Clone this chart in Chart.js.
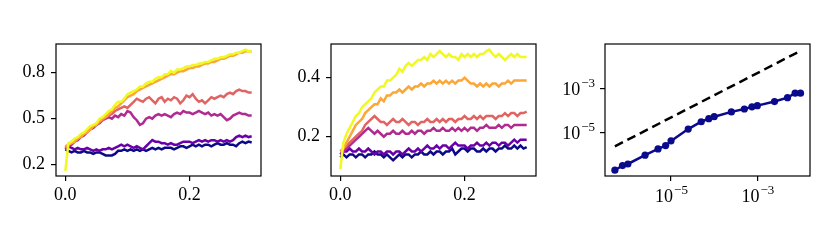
<!DOCTYPE html>
<html>
<head>
<meta charset="utf-8">
<script src="https://cdn.jsdelivr.net/npm/chart.js@4/dist/chart.umd.min.js"></script>
<style>
  body { margin: 0; background: #fff; }
  canvas { position: absolute; top: 0; }
</style>
</head>
<body>
<canvas id="c1" width="275" height="249" style="left:0px"></canvas>
<canvas id="c2" width="275" height="249" style="left:275px"></canvas>
<canvas id="c3" width="280" height="249" style="left:550px"></canvas>
<script>
// shared time axis for the two left panels
const steps = [0, 0.005, 0.01, 0.015, 0.02, 0.025, 0.03, 0.035, 0.04, 0.045,
  0.05, 0.055, 0.06, 0.065, 0.07, 0.075, 0.08, 0.085, 0.09, 0.095,
  0.1, 0.105, 0.11, 0.115, 0.12, 0.125, 0.13, 0.135, 0.14, 0.145,
  0.15, 0.155, 0.16, 0.165, 0.17, 0.175, 0.18, 0.185, 0.19, 0.195,
  0.2, 0.205, 0.21, 0.215, 0.22, 0.225, 0.23, 0.235, 0.24, 0.245,
  0.25, 0.255, 0.26, 0.265, 0.27, 0.275, 0.28, 0.285, 0.29, 0.295, 0.3];

const plasma = ['#0d0887', '#6a00a8', '#b12a90', '#e16462', '#fca636', '#f0f921'];

// panel 1
const navy1 = [0.30, 0.29, 0.28, 0.29, 0.28, 0.28, 0.29, 0.28, 0.28, 0.27, 0.28, 0.28, 0.27, 0.26, 0.26, 0.26, 0.27, 0.29, 0.29, 0.30,
  0.29, 0.30, 0.29, 0.30, 0.29, 0.30, 0.29, 0.30, 0.31, 0.30, 0.31, 0.30, 0.31, 0.31, 0.31, 0.30, 0.31, 0.32, 0.32, 0.31,
  0.32, 0.33, 0.32, 0.33, 0.32, 0.33, 0.33, 0.32, 0.33, 0.34, 0.33, 0.33, 0.34, 0.33, 0.33, 0.32, 0.34, 0.35, 0.34, 0.35, 0.345];
const purple1 = [0.31, 0.32, 0.31, 0.30, 0.31, 0.30, 0.30, 0.31, 0.30, 0.29, 0.30, 0.29, 0.30, 0.30, 0.31, 0.30, 0.31, 0.32, 0.33, 0.32,
  0.33, 0.32, 0.31, 0.32, 0.31, 0.30, 0.32, 0.34, 0.36, 0.35, 0.35, 0.34, 0.34, 0.33, 0.34, 0.33, 0.33, 0.34, 0.35, 0.35,
  0.35, 0.34, 0.35, 0.36, 0.35, 0.36, 0.35, 0.36, 0.36, 0.35, 0.36, 0.35, 0.36, 0.35, 0.36, 0.38, 0.39, 0.38, 0.39, 0.38, 0.385];
const magenta1 = [0.30, 0.32, 0.33, 0.35, 0.36, 0.38, 0.39, 0.41, 0.43, 0.44, 0.46, 0.47, 0.49, 0.50, 0.51, 0.50, 0.52, 0.51, 0.53, 0.52,
  0.55, 0.54, 0.51, 0.49, 0.46, 0.47, 0.50, 0.51, 0.50, 0.52, 0.53, 0.52, 0.53, 0.52, 0.51, 0.53, 0.54, 0.53, 0.55, 0.54,
  0.54, 0.53, 0.54, 0.55, 0.54, 0.53, 0.54, 0.52, 0.53, 0.52, 0.53, 0.51, 0.49, 0.50, 0.52, 0.53, 0.54, 0.53, 0.53, 0.52, 0.52];
const salmon1 = [0.31, 0.33, 0.34, 0.36, 0.37, 0.39, 0.40, 0.42, 0.43, 0.45, 0.46, 0.48, 0.49, 0.51, 0.52, 0.53, 0.55, 0.56, 0.57, 0.58,
  0.57, 0.59, 0.61, 0.63, 0.62, 0.61, 0.63, 0.64, 0.62, 0.60, 0.63, 0.64, 0.61, 0.63, 0.62, 0.64, 0.63, 0.60, 0.62, 0.65,
  0.64, 0.66, 0.63, 0.61, 0.62, 0.60, 0.62, 0.64, 0.63, 0.64, 0.65, 0.64, 0.66, 0.67, 0.66, 0.68, 0.69, 0.68, 0.68, 0.67, 0.67];
const orange1 = [0.32, 0.33, 0.34, 0.35, 0.37, 0.38, 0.40, 0.41, 0.43, 0.45, 0.46, 0.48, 0.50, 0.51, 0.53, 0.55, 0.57, 0.58, 0.60, 0.62,
  0.64, 0.65, 0.66, 0.68, 0.69, 0.70, 0.71, 0.72, 0.73, 0.74, 0.75, 0.76, 0.77, 0.78, 0.79, 0.79, 0.80, 0.81, 0.81, 0.82,
  0.83, 0.83, 0.84, 0.84, 0.85, 0.86, 0.86, 0.87, 0.87, 0.88, 0.89, 0.89, 0.90, 0.91, 0.91, 0.92, 0.93, 0.93, 0.94, 0.94, 0.94];
const yellow1 = [0.16, 0.34, 0.35, 0.37, 0.38, 0.40, 0.41, 0.43, 0.45, 0.46, 0.47, 0.50, 0.51, 0.53, 0.55, 0.56, 0.59, 0.61, 0.61, 0.63,
  0.66, 0.67, 0.68, 0.69, 0.71, 0.71, 0.73, 0.74, 0.74, 0.76, 0.77, 0.77, 0.79, 0.79, 0.81, 0.80, 0.82, 0.82, 0.83, 0.84,
  0.84, 0.85, 0.85, 0.86, 0.86, 0.87, 0.87, 0.88, 0.89, 0.89, 0.90, 0.90, 0.91, 0.92, 0.92, 0.93, 0.93, 0.94, 0.95, 0.94, 0.94];

// panel 2
const navy2 = [0.13, 0.14, 0.13, 0.14, 0.14, 0.13, 0.14, 0.14, 0.13, 0.14, 0.14, 0.15, 0.14, 0.14, 0.13, 0.14, 0.13, 0.12, 0.13, 0.14,
  0.13, 0.14, 0.14, 0.13, 0.14, 0.14, 0.15, 0.14, 0.14, 0.15, 0.14, 0.15, 0.15, 0.14, 0.15, 0.15, 0.16, 0.14, 0.15, 0.16,
  0.16, 0.15, 0.16, 0.16, 0.15, 0.15, 0.16, 0.15, 0.16, 0.16, 0.15, 0.16, 0.16, 0.17, 0.16, 0.16, 0.17, 0.16, 0.17, 0.16, 0.165];
const purple2 = [0.14, 0.15, 0.15, 0.16, 0.15, 0.15, 0.16, 0.15, 0.15, 0.16, 0.15, 0.14, 0.15, 0.15, 0.14, 0.15, 0.15, 0.14, 0.15, 0.15,
  0.14, 0.15, 0.16, 0.15, 0.15, 0.16, 0.15, 0.16, 0.17, 0.16, 0.16, 0.17, 0.16, 0.17, 0.17, 0.16, 0.17, 0.18, 0.17, 0.17,
  0.17, 0.16, 0.17, 0.17, 0.18, 0.17, 0.17, 0.18, 0.17, 0.18, 0.18, 0.17, 0.18, 0.18, 0.17, 0.18, 0.19, 0.18, 0.19, 0.19, 0.19];
const magenta2 = [0.14, 0.15, 0.16, 0.17, 0.18, 0.19, 0.20, 0.21, 0.22, 0.23, 0.22, 0.21, 0.22, 0.21, 0.20, 0.21, 0.21, 0.22, 0.21, 0.21,
  0.22, 0.21, 0.21, 0.22, 0.21, 0.22, 0.22, 0.21, 0.22, 0.22, 0.23, 0.22, 0.22, 0.23, 0.22, 0.22, 0.23, 0.22, 0.23, 0.22,
  0.23, 0.22, 0.23, 0.23, 0.22, 0.23, 0.23, 0.24, 0.23, 0.23, 0.23, 0.24, 0.23, 0.24, 0.24, 0.23, 0.24, 0.24, 0.24, 0.24, 0.24];
const salmon2 = [0.15, 0.16, 0.17, 0.18, 0.19, 0.20, 0.21, 0.22, 0.24, 0.25, 0.26, 0.27, 0.26, 0.25, 0.25, 0.24, 0.25, 0.26, 0.25, 0.25,
  0.26, 0.25, 0.24, 0.25, 0.25, 0.24, 0.25, 0.25, 0.26, 0.25, 0.25, 0.26, 0.25, 0.26, 0.25, 0.26, 0.26, 0.25, 0.26, 0.26,
  0.27, 0.26, 0.26, 0.27, 0.26, 0.27, 0.26, 0.27, 0.27, 0.27, 0.26, 0.27, 0.27, 0.28, 0.27, 0.28, 0.28, 0.27, 0.28, 0.28, 0.285];
const orange2 = [0.15, 0.16, 0.18, 0.20, 0.22, 0.24, 0.25, 0.26, 0.28, 0.29, 0.30, 0.31, 0.31, 0.33, 0.32, 0.34, 0.34, 0.35, 0.35, 0.36,
  0.35, 0.36, 0.37, 0.36, 0.37, 0.37, 0.38, 0.37, 0.38, 0.38, 0.39, 0.38, 0.39, 0.38, 0.39, 0.38, 0.39, 0.38, 0.39, 0.39,
  0.40, 0.39, 0.38, 0.38, 0.37, 0.38, 0.37, 0.38, 0.37, 0.38, 0.38, 0.37, 0.38, 0.38, 0.39, 0.38, 0.39, 0.39, 0.39, 0.39, 0.39];
const yellow2 = [0.09, 0.18, 0.21, 0.23, 0.25, 0.27, 0.28, 0.30, 0.31, 0.32, 0.33, 0.35, 0.36, 0.37, 0.37, 0.39, 0.39, 0.40, 0.41, 0.43,
  0.42, 0.44, 0.45, 0.44, 0.45, 0.46, 0.46, 0.47, 0.46, 0.48, 0.47, 0.48, 0.49, 0.48, 0.47, 0.48, 0.47, 0.47, 0.46, 0.48,
  0.47, 0.48, 0.47, 0.48, 0.47, 0.48, 0.48, 0.49, 0.495, 0.48, 0.47, 0.48, 0.47, 0.46, 0.47, 0.48, 0.47, 0.48, 0.47, 0.47, 0.47];

// panel 3 (log-log)
const h = [5e-7, 7.5e-7, 1e-6, 2.5e-6, 5e-6, 7.5e-6, 1e-5, 2.5e-5, 5e-5, 7.5e-5,
  1e-4, 2.5e-4, 5e-4, 7.5e-4, 1e-3, 2.5e-3, 5e-3, 7.5e-3, 1e-2];
const err = [2.1e-7, 3.4e-7, 4.0e-7, 1.0e-6, 1.9e-6, 2.7e-6, 4.4e-6, 1.5e-5, 3.2e-5, 4.4e-5,
  5.4e-5, 8.9e-5, 1.2e-4, 1.5e-4, 1.7e-4, 2.6e-4, 3.9e-4, 6.2e-4, 6.2e-4];
const refX = [5e-7, 1e-2];
const refY = [2.5e-6, 5e-2];

const FONT = "'Liberation Serif', 'DejaVu Serif', serif";

const frame = {
  id: 'frame',
  afterDraw(chart) {
    const a = chart.chartArea, ctx = chart.ctx;
    ctx.save();
    ctx.strokeStyle = '#000';
    ctx.lineWidth = 1.2;
    ctx.strokeRect(a.left, a.top, a.right - a.left, a.bottom - a.top);
    ctx.restore();
  }
};

function axisBase(min, max, ticks, size) {
  const horiz = size > 60;
  return {
    type: 'linear',
    min: min,
    max: max,
    afterBuildTicks: s => { s.ticks = ticks.map(v => ({ value: v })); },
    afterFit: s => { if (s.isHorizontal()) s.height = size; else s.width = size; },
    grid: { display: true, drawOnChartArea: false, drawTicks: true, tickLength: 5, color: '#000', lineWidth: 1.2 },
    border: { display: false },
    ticks: {
      autoSkip: false,
      maxRotation: 0,
      color: '#000',
      padding: horiz ? 3 : 6,
      font: { family: FONT, size: 18 },
      callback: v => v.toFixed(1)
    }
  };
}

function lineChart(id, series, yMin, yMax, yTicks, rightPad) {
  const datasets = series.map((s, i) => ({
    data: steps.map((x, j) => ({ x: x, y: s[j] })),
    borderColor: plasma[i],
    borderWidth: 2.5,
    pointRadius: 0,
    fill: false,
    tension: 0,
    order: series.length - i
  }));
  return new Chart(document.getElementById(id), {
    type: 'line',
    data: { datasets: datasets },
    options: {
      responsive: false,
      animation: false,
      layout: { padding: { top: 44, right: rightPad, left: 0, bottom: 0 } },
      plugins: { legend: { display: false }, tooltip: { enabled: false } },
      scales: {
        x: axisBase(-0.015, 0.315, [0, 0.2], 73),
        y: axisBase(yMin, yMax, yTicks, 56)
      }
    },
    plugins: [frame]
  });
}

lineChart('c1', [navy1, purple1, magenta1, salmon1, orange1, yellow1], 0.126, 0.987, [0.2, 0.5, 0.8], 14);
lineChart('c2', [navy2, purple2, magenta2, salmon2, orange2, yellow2], 0.067, 0.514, [0.2, 0.4], 14);

// draws 10^n labels with a raised exponent
function drawPower(ctx, value, x, y, align) {
  const n = Math.round(Math.log10(value));
  const base = '10', sup = '\u2212' + Math.abs(n);
  ctx.font = '18px ' + FONT;
  const wb = ctx.measureText(base).width;
  ctx.font = '13px ' + FONT;
  const ws = ctx.measureText(sup).width;
  const left = align === 'center' ? x - (wb + ws) / 2 : x - wb - ws;
  ctx.textAlign = 'left';
  ctx.textBaseline = 'alphabetic';
  ctx.font = '18px ' + FONT;
  ctx.fillText(base, left, y);
  ctx.font = '13px ' + FONT;
  ctx.fillText(sup, left + wb + 1, y - 8);
}

const powerLabels = {
  id: 'powerLabels',
  afterDraw(chart) {
    const ctx = chart.ctx, xs = chart.scales.x, ys = chart.scales.y;
    ctx.save();
    ctx.fillStyle = '#000';
    xs.ticks.forEach(t => drawPower(ctx, t.value, xs.getPixelForValue(t.value), chart.chartArea.bottom + 26, 'center'));
    ys.ticks.forEach(t => drawPower(ctx, t.value, chart.chartArea.left - 11, ys.getPixelForValue(t.value) + 6, 'right'));
    ctx.restore();
  }
};

function logAxis(min, max, ticks, size) {
  const a = axisBase(min, max, ticks, size);
  a.type = 'logarithmic';
  a.ticks.callback = () => '';
  return a;
}

new Chart(document.getElementById('c3'), {
  type: 'line',
  data: {
    datasets: [
      {
        data: h.map((x, i) => ({ x: x, y: err[i] })),
        borderColor: '#0a0a8c',
        backgroundColor: '#0a0a8c',
        borderWidth: 2.5,
        pointRadius: 3.6,
        pointBorderWidth: 0,
        tension: 0
      },
      {
        data: refX.map((x, i) => ({ x: x, y: refY[i] })),
        borderColor: '#000',
        borderWidth: 2.5,
        borderDash: [9, 5],
        pointRadius: 0,
        tension: 0
      }
    ]
  },
  options: {
    responsive: false,
    animation: false,
    layout: { padding: { top: 44, right: 20, left: 0, bottom: 0 } },
    plugins: { legend: { display: false }, tooltip: { enabled: false } },
    scales: {
      x: logAxis(2.95e-7, 0.0166, [1e-5, 1e-3], 73),
      y: logAxis(1.15e-7, 0.102, [1e-5, 1e-3], 55)
    }
  },
  plugins: [frame, powerLabels]
});
</script>
</body>
</html>
